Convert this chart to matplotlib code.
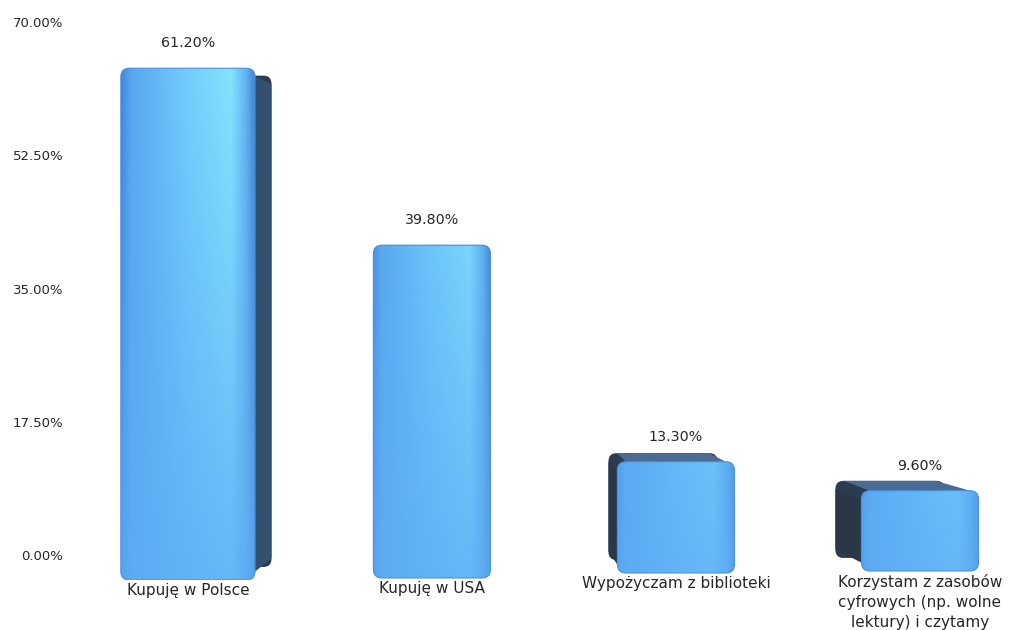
import numpy as np
import matplotlib.pyplot as plt
from matplotlib.patches import FancyBboxPatch, Polygon
from matplotlib.colors import to_rgb
from matplotlib.transforms import ScaledTranslation

# survey answers and their shares (in %)
categories = ['Kupuję w Polsce', 'Kupuję w USA', 'Wypożyczam z biblioteki',
              'Korzystam z zasobów\ncyfrowych (np. wolne\nlektury) i czytamy']
shares = [61.2, 39.8, 13.3, 9.6]
ticks = [0, 17.5, 35, 52.5, 70]

txt_color = '#262626'
fig = plt.figure(figsize=(10.1, 6.3), dpi=100)

# back wall: only carries the percentage scale
ax_back = fig.add_axes([0.068, 0.119, 0.9, 0.846])
ax_back.set_ylim(0, 70)
ax_back.set_yticks(ticks)
ax_back.set_yticklabels(['%.2f%%' % t for t in ticks])
ax_back.set_xticks([])
ax_back.tick_params(axis='y', length=0, pad=4, labelsize=9.5, labelcolor=txt_color)
for sp in ax_back.spines.values():
    sp.set_visible(False)

# front: the bars themselves, drawn a bit larger like a 3d view
ax = fig.add_axes([0, 0.0794, 1, 0.876])
ax.patch.set_alpha(0)
ax.set_xlim(-0.770, 3.369)
ax.set_ylim(0, 66)
ax.axis('off')

pos = np.arange(len(shares))
widths = [0.55, 0.48, 0.48, 0.48]
lift = [0, 2, 7, 9]                   # px, far bars sit a little higher on the floor
vp_x, depth_x = 1.24, 0.93            # vanishing point / depth scale, horizontal
vp_y, depth_y = 39.0, 0.96            # same, vertical
aspect = 244 / 8.37                   # px per x unit / px per y unit
rnd = 0.035


def front_gradient(h):
    # horizontal shading of the rounded front, fading to flat blue at the base
    stops = [0, 0.07, 0.5, 0.82, 0.93, 1]
    cols = np.array([to_rgb(c) for c in
                     ['#3f86d8', '#58a6ee', '#74cffd', '#86e6ff', '#5fb4f2', '#3c7cc8']])
    u = np.linspace(0, 1, 120)
    prof = np.stack([np.interp(u, stops, cols[:, k]) for k in range(3)], axis=1)
    base = np.array(to_rgb('#5eacf4'))
    v = np.linspace(0, h, 80)[:, None, None]
    w = 0.2 + 0.8 * (v / 65)
    return w * prof[None, :, :] + (1 - w) * base


for x, h, bw, up, name in zip(pos, shares, widths, lift, categories):
    tr = ax.transData + ScaledTranslation(0, up / 100, fig.dpi_scale_trans)
    x0, x1 = x - bw / 2, x + bw / 2
    bx0 = vp_x + depth_x * (x0 - vp_x)
    bx1 = vp_x + depth_x * (x1 - vp_x)
    bh = vp_y + depth_y * (h - vp_y)
    b0 = vp_y + depth_y * (0 - vp_y)

    # rear face and the visible faces of the extruded bar
    ax.add_patch(FancyBboxPatch((bx0, b0), bx1 - bx0, bh - b0,
                                boxstyle='round,pad=0,rounding_size=%g' % (rnd * depth_x),
                                mutation_aspect=aspect, transform=tr,
                                facecolor='#2c3c50', edgecolor='none', zorder=2))
    if bh > h:
        ax.add_patch(Polygon([(x0 + rnd, h), (x1 - rnd, h), (bx1 - rnd, bh), (bx0 + rnd, bh)],
                             closed=True, transform=tr,
                             facecolor='#4a6c94', edgecolor='none', zorder=2))
    if bx1 > x1:
        ax.add_patch(Polygon([(x1, 1), (x1, h - 1), (bx1, bh - 1), (bx1, b0 + 1)],
                             closed=True, transform=tr,
                             facecolor='#33506e', edgecolor='none', zorder=2))
    if bx0 < x0:
        ax.add_patch(Polygon([(x0, 1), (x0, h - 1), (bx0, bh - 1), (bx0, b0 + 1)],
                             closed=True, transform=tr,
                             facecolor='#2a3746', edgecolor='none', zorder=2))

    front = FancyBboxPatch((x0, 0), bw, h,
                           boxstyle='round,pad=0,rounding_size=%g' % rnd,
                           mutation_aspect=aspect, transform=tr,
                           facecolor='none', edgecolor='#4a90dc', linewidth=0.8, zorder=4)
    ax.add_patch(front)
    im = ax.imshow(front_gradient(h), extent=(x0, x1, 0, h), origin='lower',
                   aspect='auto', interpolation='bilinear', zorder=3)
    im.set_transform(tr)
    im.set_clip_path(front)

    ax.annotate('%.2f%%' % h, (x, h), xytext=(0, 18 + up),
                textcoords='offset pixels', ha='center', va='bottom',
                fontsize=10.3, color=txt_color, annotation_clip=False)

    # category name under the bar
    ax.annotate(name, (x, 0), xytext=(0, up - 3), textcoords='offset pixels',
                ha='center', va='top', fontsize=11, color=txt_color,
                linespacing=1.42, annotation_clip=False)

fig.savefig('out.png', dpi=100)
